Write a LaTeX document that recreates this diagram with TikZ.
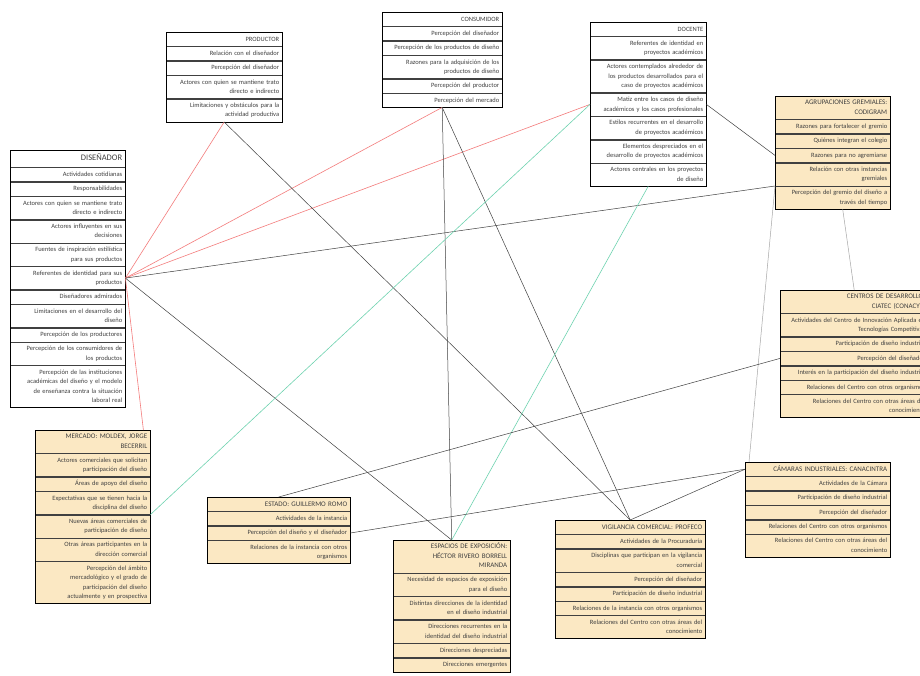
\documentclass[tikz,border=0pt]{standalone}
\usepackage{fontspec}
\setmainfont{Carlito}
\usepackage{tikz}
\usetikzlibrary{positioning}
\definecolor{tan}{HTML}{FBE8C3}
\definecolor{ink}{HTML}{404040}
\definecolor{linkred}{HTML}{F47C7C}
\definecolor{linkgreen}{HTML}{6FD3B0}
\definecolor{linkgray}{HTML}{A6A6A6}

\begin{document}
\begin{tikzpicture}[x=1pt,y=-1pt,
  cell/.style={draw=ink,line width=0.4pt,text width=#1,align=right,inner xsep=3pt,inner ysep=2pt,
    minimum height=14pt,font=\fontsize{6.5}{9.5}\selectfont,text=ink,
    execute at begin node=\strut,execute at end node=\strut},
  tcell/.style={cell=#1,fill=tan},
  frame/.style={draw=black,line width=0.8pt},
  redl/.style={draw=linkred,line width=0.6pt},
  grnl/.style={draw=linkgreen,line width=0.6pt},
  blkl/.style={draw=ink,line width=0.5pt},
  gryl/.style={draw=linkgray,line width=0.5pt}
]
  \useasboundingbox[fill=white] (0,0) rectangle (920,675);

  % productor
  \begin{scope}[nodes={cell=110pt}]
  \node[anchor=north west] (prod0) at (166,32) {PRODUCTOR};
  \node[below=0pt of prod0] (prod1) {Relación con el diseñador};
  \node[below=0pt of prod1] (prod2) {Percepción del diseñador};
  \node[below=0pt of prod2] (prod3) {Actores con quien se mantiene trato\\directo e indirecto};
  \node[below=0pt of prod3] (prod4) {Limitaciones y obstáculos para la\\actividad productiva};
  \end{scope}
  \draw[frame] (prod0.north west) rectangle (prod4.south east);

  % consumidor
  \begin{scope}[nodes={cell=114pt}]
  \node[anchor=north west] (con0) at (382,12) {CONSUMIDOR};
  \node[below=0pt of con0] (con1) {Percepción del diseñador};
  \node[below=0pt of con1] (con2) {Percepción de los productos de diseño};
  \node[below=0pt of con2] (con3) {Razones para la adquisición de los\\productos de diseño};
  \node[below=0pt of con3] (con4) {Percepción del productor};
  \node[below=0pt of con4] (con5) {Percepción del mercado};
  \end{scope}
  \draw[frame] (con0.north west) rectangle (con5.south east);

  % docente
  \begin{scope}[nodes={cell=110pt}]
  \node[anchor=north west] (doc0) at (590,22) {DOCENTE};
  \node[below=0pt of doc0] (doc1) {Referentes de identidad en\\proyectos académicos};
  \node[below=0pt of doc1] (doc2) {Actores contemplados alrededor de\\los productos desarrollados para el\\caso de proyectos académicos};
  \node[below=0pt of doc2] (doc3) {Matiz entre los casos de diseño\\académicos y los casos profesionales};
  \node[below=0pt of doc3] (doc4) {Estilos recurrentes en el desarrollo\\de proyectos académicos};
  \node[below=0pt of doc4] (doc5) {Elementos despreciados en el\\desarrollo de proyectos académicos};
  \node[below=0pt of doc5] (doc6) {Actores centrales en los proyectos\\de diseño};
  \end{scope}
  \draw[frame] (doc0.north west) rectangle (doc6.south east);

  % diseñador
  \begin{scope}[nodes={cell=109pt}]
  \node[anchor=north west,minimum height=17pt,font=\fontsize{8.5}{9.5}\selectfont] (dis0) at (10,150) {DISEÑADOR};
  \node[below=0pt of dis0] (dis1) {Actividades cotidianas};
  \node[below=0pt of dis1] (dis2) {Responsabilidades};
  \node[below=0pt of dis2] (dis3) {Actores con quien se mantiene trato\\directo e indirecto};
  \node[below=0pt of dis3] (dis4) {Actores influyentes en sus\\decisiones};
  \node[below=0pt of dis4] (dis5) {Fuentes de inspiración estilística\\para sus productos};
  \node[below=0pt of dis5] (dis6) {Referentes de identidad para sus\\productos};
  \node[below=0pt of dis6] (dis7) {Diseñadores admirados};
  \node[below=0pt of dis7] (dis8) {Limitaciones en el desarrollo del\\diseño};
  \node[below=0pt of dis8] (dis9) {Percepción de los productores};
  \node[below=0pt of dis9] (dis10) {Percepción de los consumidores de\\los productos};
  \node[below=0pt of dis10] (dis11) {Percepción de las instituciones\\académicas del diseño y el modelo\\de enseñanza contra la situación\\laboral real};
  \end{scope}
  \draw[frame] (dis0.north west) rectangle (dis11.south east);

  % agrupaciones gremiales
  \begin{scope}[nodes={tcell=109pt}]
  \node[anchor=north west,font=\fontsize{7}{9.5}\selectfont] (agr0) at (775,96) {AGRUPACIONES GREMIALES:\\CODIGRAM};
  \node[below=0pt of agr0] (agr1) {Razones para fortalecer el gremio};
  \node[below=0pt of agr1] (agr2) {Quiénes integran el colegio};
  \node[below=0pt of agr2] (agr3) {Razones para no agremiarse};
  \node[below=0pt of agr3] (agr4) {Relación con otras instancias\\gremiales};
  \node[below=0pt of agr4] (agr5) {Percepción del gremio del diseño a\\través del tiempo};
  \end{scope}
  \draw[frame] (agr0.north west) rectangle (agr5.south east);

  % centros de desarrollo
  \begin{scope}[nodes={tcell=142pt}]
  \node[anchor=north west,font=\fontsize{7}{9.5}\selectfont] (cen0) at (780,290) {CENTROS DE DESARROLLO:\\CIATEC (CONACYT)};
  \node[below=0pt of cen0] (cen1) {Actividades del Centro de Innovación Aplicada en\\Tecnologías Competitivas};
  \node[below=0pt of cen1] (cen2) {Participación de diseño industrial};
  \node[below=0pt of cen2] (cen3) {Percepción del diseñador};
  \node[below=0pt of cen3] (cen4) {Interés en la participación del diseño industrial};
  \node[below=0pt of cen4] (cen5) {Relaciones del Centro con otros organismos};
  \node[below=0pt of cen5] (cen6) {Relaciones del Centro con otras áreas del\\conocimiento};
  \end{scope}
  \draw[frame] (cen0.north west) rectangle (cen6.south east);

  % mercado
  \begin{scope}[nodes={tcell=109pt}]
  \node[anchor=north west,font=\fontsize{7}{9.5}\selectfont] (mer0) at (35,430) {MERCADO: MOLDEX, JORGE\\BECERRIL};
  \node[below=0pt of mer0] (mer1) {Actores comerciales que solicitan\\participación del diseño};
  \node[below=0pt of mer1] (mer2) {Áreas de apoyo del diseño};
  \node[below=0pt of mer2] (mer3) {Expectativas que se tienen hacia la\\disciplina del diseño};
  \node[below=0pt of mer3] (mer4) {Nuevas áreas comerciales de\\participación de diseño};
  \node[below=0pt of mer4] (mer5) {Otras áreas participantes en la\\dirección comercial};
  \node[below=0pt of mer5] (mer6) {Percepción del ámbito\\mercadológico y el grado de\\participación del diseño\\actualmente y en prospectiva};
  \end{scope}
  \draw[frame] (mer0.north west) rectangle (mer6.south east);

  % estado
  \begin{scope}[nodes={tcell=137pt}]
  \node[anchor=north west,font=\fontsize{7}{9.5}\selectfont] (est0) at (207,497) {ESTADO: GUILLERMO ROMO};
  \node[below=0pt of est0] (est1) {Actividades de la instancia};
  \node[below=0pt of est1] (est2) {Percepción del diseño y el diseñador};
  \node[below=0pt of est2] (est3) {Relaciones de la instancia con otros\\organismos};
  \end{scope}
  \draw[frame] (est0.north west) rectangle (est3.south east);

  % espacios de exposicion
  \begin{scope}[nodes={tcell=111pt}]
  \node[anchor=north west,font=\fontsize{7}{9.5}\selectfont] (esp0) at (393,540) {ESPACIOS DE EXPOSICIÓN:\\HÉCTOR RIVERO BORRELL\\MIRANDA};
  \node[below=0pt of esp0] (esp1) {Necesidad de espacios de exposición\\para el diseño};
  \node[below=0pt of esp1] (esp2) {Distintas direcciones de la identidad\\en el diseño industrial};
  \node[below=0pt of esp2] (esp3) {Direcciones recurrentes en la\\identidad del diseño industrial};
  \node[below=0pt of esp3] (esp4) {Direcciones despreciadas};
  \node[below=0pt of esp4] (esp5) {Direcciones emergentes};
  \end{scope}
  \draw[frame] (esp0.north west) rectangle (esp5.south east);

  % vigilancia comercial
  \begin{scope}[nodes={tcell=144pt}]
  \node[anchor=north west,font=\fontsize{7}{9.5}\selectfont] (vig0) at (555,520) {VIGILANCIA COMERCIAL: PROFECO};
  \node[below=0pt of vig0] (vig1) {Actividades de la Procuraduría};
  \node[below=0pt of vig1] (vig2) {Disciplinas que participan en la vigilancia\\comercial};
  \node[below=0pt of vig2] (vig3) {Percepción del diseñador};
  \node[below=0pt of vig3] (vig4) {Participación de diseño industrial};
  \node[below=0pt of vig4] (vig5) {Relaciones de la instancia con otros organismos};
  \node[below=0pt of vig5] (vig6) {Relaciones del Centro con otras áreas del\\conocimiento};
  \end{scope}
  \draw[frame] (vig0.north west) rectangle (vig6.south east);

  % camaras industriales
  \begin{scope}[nodes={tcell=139pt}]
  \node[anchor=north west,font=\fontsize{7}{9.5}\selectfont] (cam0) at (745,462) {CÁMARAS INDUSTRIALES: CANACINTRA};
  \node[below=0pt of cam0] (cam1) {Actividades de la Cámara};
  \node[below=0pt of cam1] (cam2) {Participación de diseño industrial};
  \node[below=0pt of cam2] (cam3) {Percepción del diseñador};
  \node[below=0pt of cam3] (cam4) {Relaciones del Centro con otros organismos};
  \node[below=0pt of cam4] (cam5) {Relaciones del Centro con otras áreas del\\conocimiento};
  \end{scope}
  \draw[frame] (cam0.north west) rectangle (cam5.south east);

  % links
  \draw[redl] (dis6.east) -- (prod4.south);
  \draw[redl] (dis6.east) -- (con5.south);
  \draw[redl] (dis6.east) -- (doc3.west);
  \draw[redl] (dis6.east) -- ([xshift=-7pt]mer0.north east);
  \draw[blkl] (dis6.east) -- (agr4.south west);
  \draw[blkl] (dis6.east) -- (esp0.north);
  \draw[blkl] (prod4.south) -- (vig0.north);
  \draw[blkl] (con5.south) -- (esp0.north);
  \draw[blkl] (con5.south) -- (vig0.north);
  \draw[grnl] (doc3.west) -- (mer3.south east);
  \draw[grnl] (doc6.south) -- (esp0.north);
  \draw[blkl] (doc3.east) -- (agr3.west);
  \draw[gryl] ([xshift=10pt]agr5.south) -- (cen0.north);
  \draw[gryl] (agr4.south west) -- ([xshift=4pt]cam0.north west);
  \draw[blkl] (cen3.west) -- (est0.north);
  \draw[blkl] (cam0.west) -- (est2.east);
  \draw[blkl] (cam0.west) -- (vig0.north);
\end{tikzpicture}
\end{document}
